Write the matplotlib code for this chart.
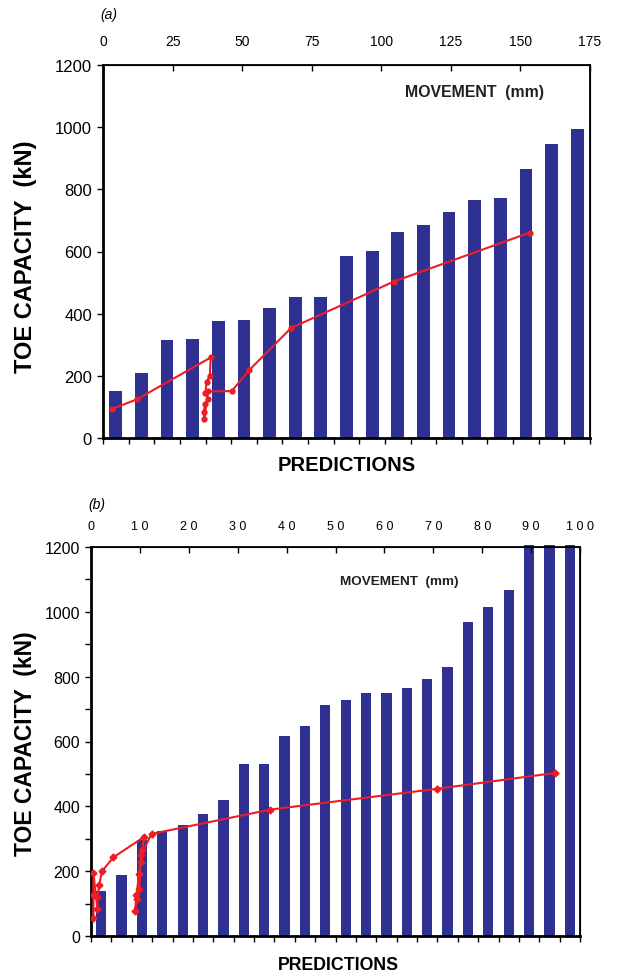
import matplotlib.pyplot as plt
from matplotlib.ticker import MultipleLocator

plt.rcParams['font.family'] = ['Liberation Sans', 'DejaVu Sans']

navy = '#2e3192'
red = '#ee1c25'

# panel (a): predicted toe capacities (bars) and load-movement curve (line)
cap_a = [150, 208, 315, 320, 375, 380, 418, 455, 455, 585, 601, 662,
         685, 728, 766, 772, 866, 947, 995]
mov_a = [3.1, 12.1, 38.7, 38.4, 37.2, 36.8, 37.8, 36.6, 36.3, 36.4,
         37.8, 46.3, 52.5, 67.6, 104.4, 153.4]
load_a = [93, 124, 259, 201, 180, 145, 126, 109, 84, 62,
          150, 151, 218, 354, 503, 661]

# panel (b)
cap_b = [138, 187, 297, 323, 342, 375, 420, 532, 532, 618, 648, 714,
         727, 749, 749, 764, 792, 829, 969, 1014, 1066, 1205, 1205, 1205]
mov_b = [0.5, 0.5, 0.5, 1.3, 1.3, 1.7, 2.2, 4.6, 10.8, 10.5, 10.2, 9.9,
         9.5, 9.0, 9.3, 9.8, 10.2, 12.4, 36.7, 70.7, 94.9]
load_b = [55, 125, 194, 84, 120, 156, 199, 243, 305, 264, 229, 146,
          115, 77, 125, 190, 250, 315, 390, 454, 503]


def panel(fig, rect, caps, mov, load, mov_max, mov_step, mov_labels,
          marker, ms, top_pad, top_fs, lab):
    ax = fig.add_axes(rect)
    n = len(caps)
    pos = list(range(1, n + 1))
    ax.bar(pos, caps, width=0.5, color=navy, clip_on=False, zorder=2)
    ax.set_xlim(0.5, n + 0.5)
    ax.set_ylim(0, 1200)
    ax.set_xticks([p - 0.5 for p in pos] + [n + 0.5])
    ax.set_xticklabels([])
    ax.yaxis.set_major_locator(MultipleLocator(200))
    ax.tick_params(axis='y', labelsize=lab['ytick_fs'], direction='out',
                   length=4, width=1, pad=4)
    ax.tick_params(axis='x', direction='out', length=4, width=1)
    if lab['minor']:
        ax.yaxis.set_minor_locator(MultipleLocator(100))
        ax.tick_params(axis='y', which='minor', direction='out', length=4, width=1)
    for s in ax.spines.values():
        s.set_linewidth(1.3)
    ax.spines['left'].set_linewidth(2)
    ax.spines['bottom'].set_linewidth(2)

    ax2 = ax.twiny()
    ax2.plot(mov, load, color=red, lw=1.5, marker=marker, ms=ms,
             mec=red, mfc=red, zorder=3)
    ax2.set_xlim(0, mov_max)
    ticks = [i * mov_step for i in range(len(mov_labels))]
    ax2.set_xticks(ticks)
    ax2.set_xticklabels(mov_labels)
    ax2.tick_params(axis='x', direction='in', length=4, width=1,
                    labelsize=top_fs, pad=top_pad)

    ax.set_ylabel('TOE CAPACITY  (kN)', fontsize=lab['ylab_fs'], fontweight='bold')
    ax.yaxis.set_label_coords(*lab['ylab_xy'])
    ax.set_xlabel('PREDICTIONS', fontsize=lab['xlab_fs'], fontweight='bold',
                  va='center')
    ax.xaxis.set_label_coords(*lab['xlab_xy'])
    ax.text(lab['mov_xy'][0], lab['mov_xy'][1], 'MOVEMENT  (mm)',
            transform=ax.transAxes, ha='center', va='center',
            fontsize=lab['mov_fs'], fontweight='bold', color='#231f20')
    return ax


fig = plt.figure(figsize=(6.22, 9.78), dpi=100)

panel(fig, [103 / 622, 1 - 439 / 978, 487 / 622, 373 / 978],
      cap_a, mov_a, load_a, 175, 25,
      ['0', '25', '50', '75', '100', '125', '150', '175'],
      'o', 3.5, 12, 10,
      dict(ytick_fs=12, minor=False, ylab_fs=17, ylab_xy=(-0.1355, 0.488),
           xlab_fs=14.5, xlab_xy=(0.5, -0.07), mov_xy=(0.762, 0.93), mov_fs=11.4))

panel(fig, [91 / 622, 1 - 937 / 978, 489 / 622, 389 / 978],
      cap_b, mov_b, load_b, 100, 10,
      ['0', '1 0', '2 0', '3 0', '4 0', '5 0', '6 0', '7 0', '8 0', '9 0', '1 0 0'],
      'D', 3.5, 11, 9,
      dict(ytick_fs=11.5, minor=True, ylab_fs=16.5, ylab_xy=(-0.110, 0.496),
           xlab_fs=12.8, xlab_xy=(0.505, -0.072), mov_xy=(0.631, 0.913), mov_fs=9.7))

fig.text(100 / 622, 1 - 15 / 978, '(a)', style='italic', fontsize=10,
         ha='left', va='center')
fig.text(88 / 622, 1 - 505 / 978, '(b)', style='italic', fontsize=10,
         ha='left', va='center')

fig.savefig('out.png', dpi=100)
